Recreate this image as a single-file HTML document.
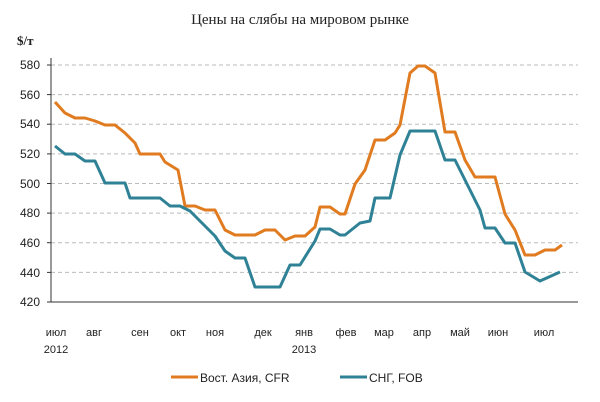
<!DOCTYPE html>
<html><head><meta charset="utf-8"><style>
body{margin:0;background:#fff}
svg{display:block}
text{font-family:"Liberation Sans","DejaVu Sans",sans-serif;fill:#222}
</style></head><body>
<svg width="600" height="402" viewBox="0 0 600 402" xmlns="http://www.w3.org/2000/svg">
<text x="300" y="24" text-anchor="middle" font-family="Liberation Serif,serif" font-size="15" style="font-family:'Liberation Serif',serif">Цены на слябы на мировом рынке</text>
<text x="17" y="45" font-size="13" style="font-family:'Liberation Serif',serif;font-weight:bold">$/т</text>
<g stroke="#bbb" stroke-dasharray="4,3" stroke-width="1">
<line x1="51" x2="578" y1="65" y2="65"/><line x1="51" x2="578" y1="94.6" y2="94.6"/>
<line x1="51" x2="578" y1="124.2" y2="124.2"/><line x1="51" x2="578" y1="153.9" y2="153.9"/>
<line x1="51" x2="578" y1="183.5" y2="183.5"/><line x1="51" x2="578" y1="213.1" y2="213.1"/>
<line x1="51" x2="578" y1="242.7" y2="242.7"/><line x1="51" x2="578" y1="272.4" y2="272.4"/>
</g>
<g stroke="#333" stroke-width="1">
<line x1="51" x2="51" y1="58" y2="302"/><line x1="51" x2="578" y1="302" y2="302"/>
<line x1="47" x2="51" y1="65" y2="65"/><line x1="47" x2="51" y1="94.6" y2="94.6"/><line x1="47" x2="51" y1="124.2" y2="124.2"/><line x1="47" x2="51" y1="153.9" y2="153.9"/><line x1="47" x2="51" y1="183.5" y2="183.5"/><line x1="47" x2="51" y1="213.1" y2="213.1"/><line x1="47" x2="51" y1="242.7" y2="242.7"/><line x1="47" x2="51" y1="272.4" y2="272.4"/><line x1="47" x2="51" y1="302" y2="302"/>
</g>
<g font-size="12" text-anchor="end">
<text x="40" y="69">580</text><text x="40" y="99">560</text><text x="40" y="128">540</text><text x="40" y="158">520</text><text x="40" y="188">500</text><text x="40" y="217">480</text><text x="40" y="247">460</text><text x="40" y="277">440</text><text x="40" y="306">420</text>
</g>
<g font-size="11" text-anchor="middle">
<text x="56" y="336">июл</text><text x="94" y="336">авг</text><text x="140" y="336">сен</text><text x="178" y="336">окт</text><text x="215" y="336">ноя</text><text x="263" y="336">дек</text><text x="304" y="336">янв</text><text x="346" y="336">фев</text><text x="384" y="336">мар</text><text x="422" y="336">апр</text><text x="460" y="336">май</text><text x="498" y="336">июн</text><text x="544" y="336">июл</text>
<text x="56" y="353">2012</text><text x="304" y="353">2013</text>
</g>
<polyline fill="none" stroke="#e07b20" stroke-width="3" stroke-linejoin="round" points="55,102 65,113 75,118 85,118 95,121 105,125 115,125 125,133 135,143 140,154 160,154 165,162 178,170 185,206 195,206 205,210 215,210 225,230 235,235 255,235 265,230 275,230 285,240 295,236 305,236 315,227 320,207 330,207 340,214 345,214 355,184 365,170 375,140 385,140 395,133 400,125 410,73 418,66 425,66 435,73 445,132 455,132 465,160 475,177 485,177 495,177 505,214 515,230 525,255 535,255 545,250 555,250 562,245"/>
<polyline fill="none" stroke="#2f8296" stroke-width="3" stroke-linejoin="round" points="55,146 65,154 75,154 85,161 95,161 105,183 125,183 130,198 160,198 170,206 180,206 190,211 200,221 215,236 225,251 235,258 245,258 255,287 280,287 290,265 300,265 315,241 320,229 330,229 340,235 345,235 360,223 370,221 375,198 390,198 400,155 410,131 435,131 445,160 455,160 465,180 480,210 485,228 495,228 505,243 515,243 525,272 540,281 560,272"/>
<line x1="171" x2="198" y1="377" y2="377" stroke="#e07b20" stroke-width="3"/>
<text x="200" y="382" font-size="12">Вост. Азия, CFR</text>
<line x1="340" x2="367" y1="377" y2="377" stroke="#2f8296" stroke-width="3"/>
<text x="369" y="382" font-size="12">СНГ, FOB</text>
</svg>
</body></html>
